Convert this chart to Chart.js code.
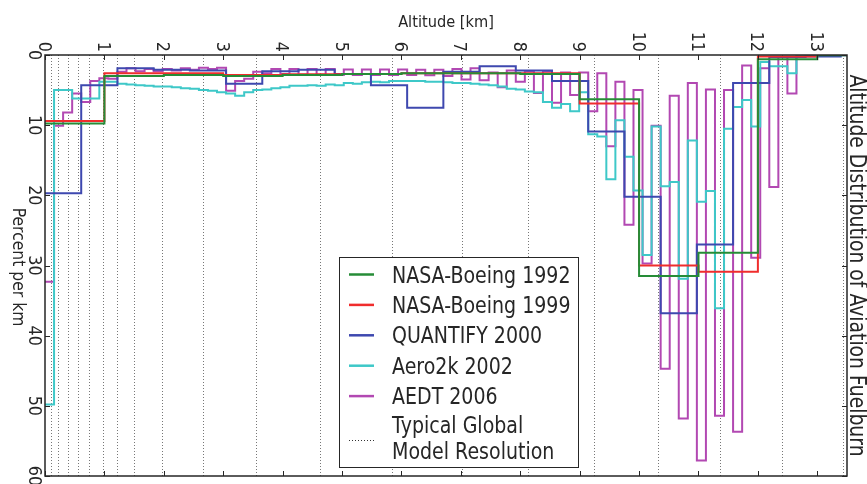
<!DOCTYPE html>
<html>
<head>
<meta charset="utf-8">
<script src="https://cdn.jsdelivr.net/npm/chart.js@4.4.0/dist/chart.umd.min.js"></script>
<style>
  html, body { margin: 0; padding: 0; background: #fff; }
</style>
</head>
<body>
<canvas id="chart" width="867" height="484"></canvas>
<script>
// bin widths (km)
const FT500 = 0.1524;
const FT2000 = 0.6096;

// NASA-Boeing inventories, 1 km bins
const nasaEdges = [0, 1, 2, 3, 4, 5, 6, 7, 8, 9, 10, 11, 12, 13, 13.5];
const nasa1992 = [9.75, 3.0, 2.85, 3.0, 2.85, 2.7, 2.6, 2.6, 2.7, 6.3, 31.5, 28.2, 0.6, 0.05];
const nasa1999 = [9.4, 2.6, 2.6, 2.85, 2.75, 2.7, 2.6, 2.6, 2.6, 6.9, 30.0, 30.9, 0.2, 0.0];

// QUANTIFY, 2000 ft bins
const quantify2000 = [19.7, 4.3, 1.9, 2.1, 2.2, 4.1, 2.3, 2.1, 2.7, 4.3, 7.5, 2.4,
  1.6, 2.2, 3.7, 10.9, 20.2, 36.8, 27.0, 4.0, 0.3, 0.2];

// Aero2k, 500 ft bins
const aero2k2002 = [49.8, 5.0, 5.0, 6.2, 6.2, 6.2, 3.8, 3.8, 4.1, 4.2,
  4.3, 4.4, 4.5, 4.5, 4.6, 4.75, 4.8, 5.0, 5.1, 5.3,
  5.5, 5.8, 5.3, 5.0, 4.9, 4.75, 4.6, 4.4, 4.4, 4.3,
  4.4, 4.2, 4.3, 4.0, 4.1, 3.9, 3.8, 3.9, 3.7, 3.7,
  3.7, 3.7, 3.8, 3.8, 3.9, 4.0, 4.0, 4.1, 4.2, 4.3,
  4.5, 4.8, 4.9, 5.2, 5.3, 6.7, 7.5, 7.0, 8.0, 5.3,
  11.3, 11.6, 17.7, 9.3, 14.5, 19.3, 28.5, 10.2, 18.7, 18.1,
  31.9, 12.2, 20.9, 19.4, 36.1, 10.5, 7.4, 6.4, 10.2, 1.0,
  1.6, 1.6, 2.6, 0.05, 0.05, 0.05, 0.05, 0.05, 0.05];

// AEDT, 500 ft bins
const aedt2006 = [32.3, 10.1, 8.2, 5.5, 6.7, 3.7, 3.3, 3.4, 2.4, 1.9,
  2.3, 2.0, 2.3, 2.0, 2.2, 1.9, 2.1, 1.8, 2.0, 1.8,
  5.1, 3.7, 3.4, 2.4, 2.6, 2.0, 2.7, 2.0, 2.8, 2.0,
  2.8, 2.0, 2.85, 2.05, 2.85, 2.05, 2.85, 2.05, 2.85, 2.05,
  2.85, 2.1, 2.9, 2.1, 3.0, 2.0, 3.5, 1.9, 3.6, 2.5,
  4.6, 2.2, 3.8, 2.3, 5.4, 2.3, 6.8, 2.5, 5.7, 2.5,
  8.0, 2.6, 13.0, 3.8, 24.2, 5.0, 29.7, 10.1, 44.7, 5.8,
  51.8, 4.0, 57.8, 4.9, 51.4, 5.0, 53.7, 1.5, 28.9, 1.9,
  18.8, 0.3, 5.5, 0.2, 0.15, 0.1, 0.1, 0.05, 0.05];

// typical global model layer edges (km)
const modelLevels = [0.096, 0.224, 0.38, 0.56, 0.746, 0.98, 1.22, 1.49, 1.97, 2.66,
  3.55, 4.63, 5.84, 7.02, 8.13, 9.24, 10.32, 11.36, 12.41, 13.43];

const xTicks = [0, 1, 2, 3, 4, 5, 6, 7, 8, 9, 10, 11, 12, 13];
const yTicks = [0, 10, 20, 30, 40, 50, 60];

function binEdges(values, width) {
  return values.map((_, i) => i * width).concat([values.length * width]);
}

function stepPoints(edges, values) {
  const pts = values.map((v, i) => ({ x: edges[i], y: v }));
  pts.push({ x: edges[values.length], y: values[values.length - 1] });
  return pts;
}

function series(label, edges, values, color) {
  return {
    label: label,
    data: stepPoints(edges, values),
    borderColor: color,
    backgroundColor: color,
    borderWidth: 2,
    pointRadius: 0,
    stepped: true,
    fill: false
  };
}

const FONT = '"DejaVu Sans", "Liberation Sans", sans-serif';
const INK = '#262626';

// text is a little taller than wide in the picture
function drawText(ctx, str, x, y, o) {
  ctx.save();
  ctx.translate(x, y);
  if (o.rotate) ctx.rotate(o.rotate);
  ctx.scale(1, o.tall || 1);
  ctx.font = o.size + 'px ' + FONT;
  ctx.textAlign = o.align || 'left';
  ctx.textBaseline = 'alphabetic';
  ctx.fillStyle = INK;
  ctx.fillText(str, 0, 0);
  ctx.restore();
}

const decorations = {
  id: 'decorations',
  beforeDatasetsDraw(chart) {
    const { ctx, chartArea: a, scales: { x } } = chart;
    ctx.save();
    ctx.strokeStyle = '#777';
    ctx.lineWidth = 1;
    ctx.setLineDash([1, 2]);
    modelLevels.forEach(km => {
      const px = Math.round(x.getPixelForValue(km)) + 0.5;
      ctx.beginPath();
      ctx.moveTo(px, a.top);
      ctx.lineTo(px, a.bottom);
      ctx.stroke();
    });
    ctx.restore();
  },
  afterDraw(chart) {
    const { ctx, chartArea: a, scales: { x, y } } = chart;
    const ROT = Math.PI / 2;
    const tickSize = 16, tickTall = 1.1;
    const cap = 0.73 * tickSize * tickTall;

    ctx.save();
    // ticks, pointing in
    ctx.strokeStyle = INK;
    ctx.lineWidth = 1;
    xTicks.forEach(v => {
      const px = Math.round(x.getPixelForValue(v)) + 0.5;
      ctx.beginPath();
      ctx.moveTo(px, a.top); ctx.lineTo(px, a.top + 5);
      ctx.moveTo(px, a.bottom); ctx.lineTo(px, a.bottom - 5);
      ctx.stroke();
    });
    yTicks.forEach(v => {
      const py = Math.round(y.getPixelForValue(v)) + 0.5;
      ctx.beginPath();
      ctx.moveTo(a.left, py); ctx.lineTo(a.left + 5, py);
      ctx.moveTo(a.right, py); ctx.lineTo(a.right - 5, py);
      ctx.stroke();
    });
    // frame
    ctx.lineWidth = 1.5;
    ctx.strokeRect(a.left, a.top, a.right - a.left, a.bottom - a.top);
    ctx.restore();

    // tick labels (rotated like the rest of the figure)
    xTicks.forEach(v => {
      drawText(ctx, String(v), x.getPixelForValue(v) - cap / 2, a.top - 3,
        { rotate: ROT, size: tickSize, tall: tickTall, align: 'right' });
    });
    yTicks.forEach(v => {
      drawText(ctx, String(v), a.left - 16, y.getPixelForValue(v),
        { rotate: ROT, size: tickSize, tall: tickTall, align: 'center' });
    });

    // axis titles
    drawText(ctx, 'Altitude [km]', (a.left + a.right) / 2, 27, { size: 14.6, tall: 1.1, align: 'center' });
    drawText(ctx, 'Percent per km', 13, 267, { rotate: ROT, size: 15.6, tall: 1.1, align: 'center' });
    drawText(ctx, 'Altitude Distribution of Aviation Fuelburn', a.right + 3, (a.top + a.bottom) / 2,
      { rotate: ROT, size: 18.8, tall: 1.24, align: 'center' });

    // legend
    const box = { left: 339, top: 257, width: 239, height: 210 };
    ctx.save();
    ctx.fillStyle = '#fff';
    ctx.fillRect(box.left, box.top, box.width, box.height);
    ctx.strokeStyle = INK;
    ctx.lineWidth = 1;
    ctx.strokeRect(box.left + 0.5, box.top + 0.5, box.width, box.height);
    chart.data.datasets.forEach((ds, i) => {
      const ly = 274.5 + i * 30.4;
      ctx.strokeStyle = ds.borderColor;
      ctx.lineWidth = 2.5;
      ctx.beginPath();
      ctx.moveTo(349, ly); ctx.lineTo(374, ly);
      ctx.stroke();
      drawText(ctx, ds.label, 392, ly + 8, { size: 19, tall: 1.2 });
    });
    ctx.strokeStyle = '#333';
    ctx.lineWidth = 1;
    ctx.setLineDash([1, 2]);
    ctx.beginPath();
    ctx.moveTo(349, 440.5); ctx.lineTo(374, 440.5);
    ctx.stroke();
    ctx.restore();
    drawText(ctx, 'Typical Global', 392, 433, { size: 19, tall: 1.2 });
    drawText(ctx, 'Model Resolution', 392, 459, { size: 19, tall: 1.2 });
  }
};

new Chart(document.getElementById('chart'), {
  type: 'line',
  data: {
    datasets: [
      series('NASA-Boeing 1992', nasaEdges, nasa1992, 'rgb(38,140,55)'),
      series('NASA-Boeing 1999', nasaEdges, nasa1999, 'rgb(240,45,45)'),
      series('QUANTIFY 2000', binEdges(quantify2000, FT2000), quantify2000, 'rgb(62,72,175)'),
      series('Aero2k 2002', binEdges(aero2k2002, FT500), aero2k2002, 'rgb(62,200,200)'),
      series('AEDT 2006', binEdges(aedt2006, FT500), aedt2006, 'rgb(178,72,178)')
    ]
  },
  options: {
    responsive: false,
    animation: false,
    devicePixelRatio: 1,
    layout: { padding: { left: 45, top: 55, right: 20, bottom: 8 } },
    scales: {
      x: { type: 'linear', position: 'top', min: 0, max: 13.5, display: false },
      y: { type: 'linear', reverse: true, min: 0, max: 60, display: false }
    },
    plugins: {
      legend: { display: false },
      tooltip: { enabled: false }
    }
  },
  plugins: [decorations]
});
</script>
</body>
</html>
